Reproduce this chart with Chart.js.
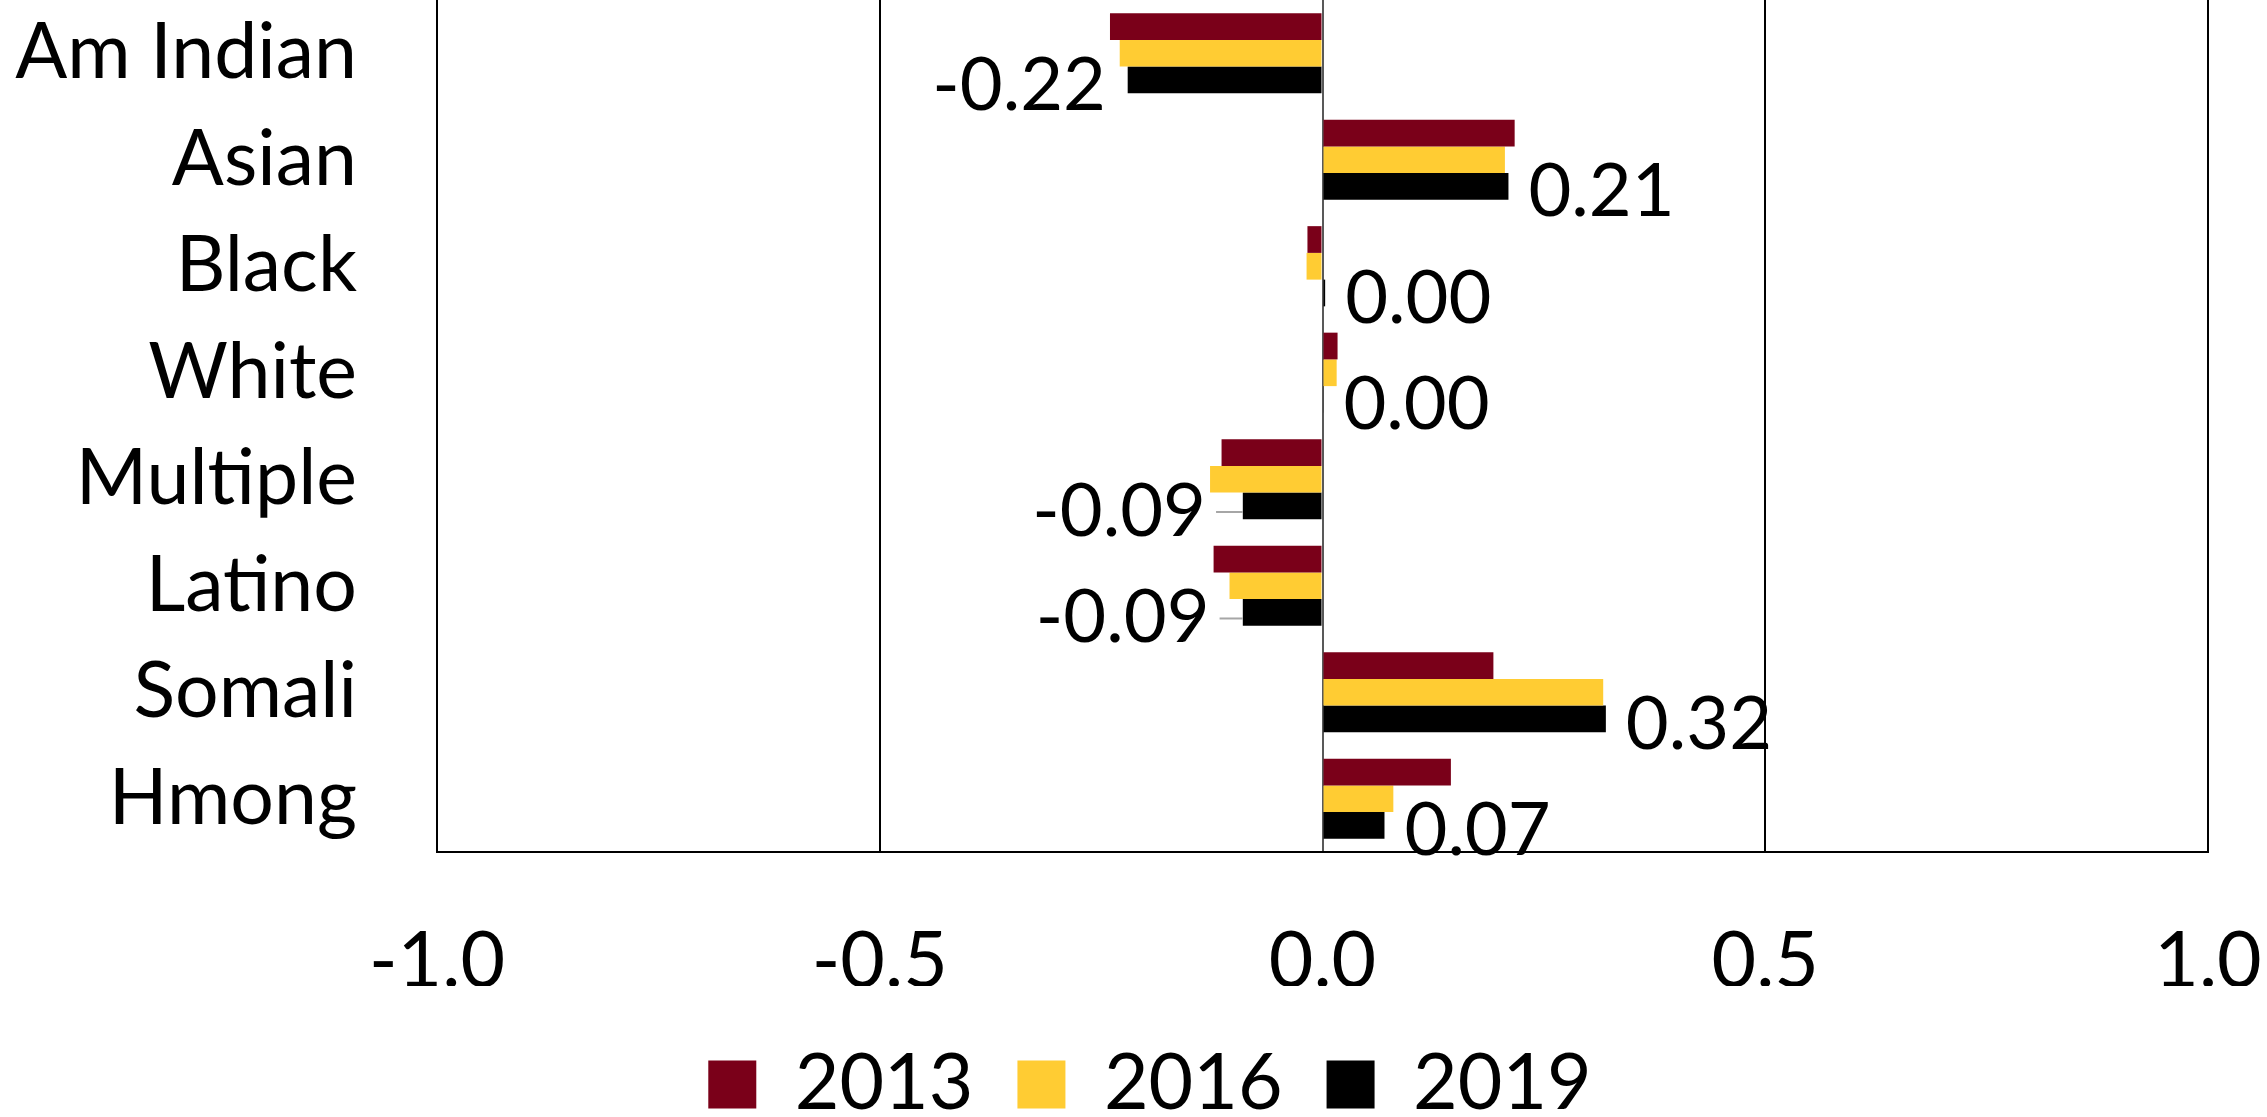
<!DOCTYPE html>
<html>
<head>
<meta charset="utf-8">
<script src="https://cdn.jsdelivr.net/npm/chart.js@4"></script>
<style>
  html, body { margin: 0; padding: 0; background: #fff; }
  #wrap { width: 2267px; height: 1117px; }
</style>
</head>
<body>
<div id="wrap"><canvas id="barChart"></canvas></div>
<script>
const groups = ['Am Indian', 'Asian', 'Black', 'White', 'Multiple', 'Latino', 'Somali', 'Hmong'];
const years = ['2013', '2016', '2019'];
const values2013 = [-0.24, 0.217, -0.017, 0.017, -0.114, -0.123, 0.193, 0.145];
const values2016 = [-0.229, 0.206, -0.018, 0.016, -0.127, -0.105, 0.317, 0.08];
const values2019 = [-0.22, 0.21, 0.003, 0.001, -0.09, -0.09, 0.32, 0.07];
const xTicks = [-1.0, -0.5, 0.0, 0.5, 1.0];

const colors = ['#7A0019', '#FFCC33', '#000000'];
const fontFamily = 'Lato, "Open Sans", sans-serif';

// value labels on the 2019 bars, pushed clear of the other bars when negative
const barLabels = {
  id: 'barLabels',
  afterLayout(chart) {
    // legend sits a bit right of the canvas centre and low in the reference
    const lg = chart.legend;
    lg.left += 92;
    lg.top += 16;
    lg.bottom += 16;
  },
  afterDatasetsDraw(chart) {
    const ctx = chart.ctx;
    const last = chart.data.datasets.length - 1;
    const meta = chart.getDatasetMeta(last);
    ctx.save();
    ctx.font = '74px ' + fontFamily;
    ctx.fillStyle = '#000';
    ctx.textBaseline = 'middle';
    meta.data.forEach(function(bar, i) {
      const v = chart.data.datasets[last].data[i];
      const txt = v.toFixed(2);
      const y = bar.y + 6;
      if (v >= 0) {
        ctx.textAlign = 'left';
        ctx.fillText(txt, bar.x + 20, y);
      } else {
        let groupMin = bar.x;
        chart.data.datasets.forEach(function(ds, d) {
          groupMin = Math.min(groupMin, chart.getDatasetMeta(d).data[i].x);
        });
        const right = Math.min(bar.x - 19, groupMin - 4);
        if (bar.x - right > 30) {
          ctx.strokeStyle = '#a6a6a6';
          ctx.lineWidth = 2;
          ctx.beginPath();
          ctx.moveTo(right + 10, y);
          ctx.lineTo(bar.x, y);
          ctx.stroke();
        }
        ctx.textAlign = 'right';
        ctx.fillText(txt, right, y);
      }
    });
    ctx.restore();
  }
};

const config = {
  type: 'bar',
  data: {
    labels: groups,
    datasets: [
      { label: years[0], data: values2013, backgroundColor: colors[0] },
      { label: years[1], data: values2016, backgroundColor: colors[1] },
      { label: years[2], data: values2019, backgroundColor: colors[2] }
    ]
  },
  options: {
    indexAxis: 'y',
    responsive: true,
    maintainAspectRatio: false,
    devicePixelRatio: 1,
    animation: false,
    layout: { padding: { top: 0, right: 59, bottom: 0, left: 0 } },
    datasets: {
      bar: { categoryPercentage: 0.753, barPercentage: 1.0, borderWidth: 0 }
    },
    scales: {
      x: {
        min: -1,
        max: 1,
        afterBuildTicks(scale) {
          scale.ticks = xTicks.map(v => ({ value: v }));
        },
        afterFit(scale) {
          scale.height = 134;
          scale.paddingLeft = 0;
          scale.paddingRight = 0;
        },
        ticks: {
          color: '#000',
          padding: 64,
          font: { family: fontFamily, size: 77 },
          callback: v => Number(v).toFixed(1)
        },
        grid: {
          drawTicks: false,
          lineWidth: 2,
          color: ctx => (ctx.tick && ctx.tick.value === 0) ? '#595959' : '#000'
        },
        border: { display: true, color: '#000', width: 2 }
      },
      y: {
        afterFit(scale) {
          scale.width = 437;
          scale.paddingTop = 0;
          scale.paddingBottom = 0;
        },
        ticks: {
          color: '#000',
          padding: 72,
          font: { family: fontFamily, size: 77 }
        },
        grid: { display: false },
        border: { display: false }
      }
    },
    plugins: {
      legend: {
        position: 'bottom',
        labels: {
          color: '#000',
          font: { family: fontFamily, size: 77 },
          boxWidth: 48,
          boxHeight: 48,
          padding: 44
        }
      },
      tooltip: { enabled: false }
    }
  },
  plugins: [barLabels]
};

const myChart = new Chart(document.getElementById('barChart'), config);
</script>
</body>
</html>
